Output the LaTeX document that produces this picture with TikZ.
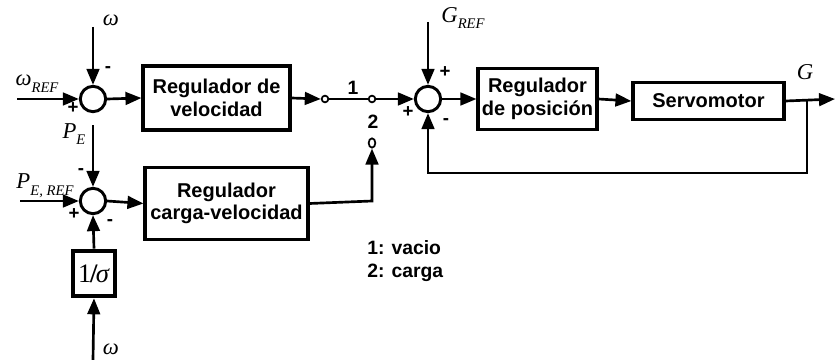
\documentclass[tikz,border=0pt]{standalone}
\usepackage{fontspec}
\setmainfont{Liberation Serif}
\setsansfont{Liberation Sans}
\usetikzlibrary{arrows.meta,shapes.geometric}
\newcommand{\sublab}[2]{#1\raisebox{-0.3em}{\fontsize{11}{11}\selectfont #2}}
\begin{document}
\begin{tikzpicture}[x=0.75pt,y=-0.75pt,
  line/.style={line width=2pt},
  arr/.style={line width=2pt,-{Triangle[length=12pt,width=9.5pt]}},
  sum/.style={circle,draw,line width=2.2pt,minimum size=19pt,inner sep=0pt},
  blk/.style={draw,line width=2.6pt,font=\sffamily\bfseries\fontsize{15}{17}\selectfont,align=center,inner sep=0pt},
  term/.style={circle,draw,line width=1.3pt,minimum size=5pt,inner sep=0pt,fill=white},
  sig/.style={font=\sffamily\bfseries\fontsize{14}{14}\selectfont,inner sep=0pt},
  lab/.style={font=\itshape\fontsize{17}{17}\selectfont,inner sep=0pt},
  txt/.style={font=\sffamily\bfseries\fontsize{14.5}{17}\selectfont,inner sep=0pt},
]
\useasboundingbox (0,0) rectangle (835,360);

% summing junctions
\node[sum] (C1) at (93,99) {};
\node[sum] (C2) at (93,201) {};
\node[sum] (C3) at (428,99) {};

% blocks
\node[blk,minimum width=110pt,minimum height=48pt] (B1) at (216.5,98) {Regulador de\\velocidad};
\node[blk,minimum width=122pt,minimum height=54pt] (B3) at (226.5,203.5) {Regulador\\carga-velocidad};
\node[blk,minimum width=89pt,minimum height=46pt] (B2) at (537.5,99) {Regulador\\de posición};
\node[blk,minimum width=113pt,minimum height=28pt] (SM) at (708.5,101) {Servomotor};
\node[draw,line width=3.2pt,minimum width=32pt,minimum height=34pt,inner sep=0pt,font=\fontsize{20}{20}\selectfont] (S) at (94,273.5) {1\hspace{-1pt}\textbf{/}\hspace{-1.5pt}\textit{σ}};

% switch terminals
\node[term] (T1) at (325,99) {};
\node[term] (TC) at (372,99) {};
\node[draw,ellipse,line width=1.3pt,minimum width=5pt,minimum height=7pt,inner sep=0pt,fill=white] (T2) at (372,143) {};

% input coordinates
\coordinate (wtop) at (93,27);
\coordinate (wref) at (17,99);
\coordinate (pe) at (93,125);
\coordinate (peref) at (20,201);
\coordinate (wbot) at (93,360);
\coordinate (gref) at (428,22);
\coordinate (out) at (835,99);
\coordinate (br) at (807,99);
\coordinate (fb1) at (807,173);
\coordinate (fb2) at (428,173);
\coordinate (c3b) at (372,201);

% connectors
\draw[arr] (wtop) -- (C1.north);
\draw[arr] (wref) -- (C1.west);
\draw[arr] (C1.east) -- (B1.west);
\draw[arr] (B1.east) -- (T1.west);
\draw[line] (T1.east) -- (TC.west);
\draw[arr] (TC.east) -- (C3.west);
\draw[arr] (gref) -- (C3.north);
\draw[arr] (C3.east) -- (B2.west);
\draw[arr] (B2.east) -- (SM.west);
\draw[arr] (SM.east) -- (out);
\draw[arr] (br) -- (fb1) -- (fb2) -- (C3.south);
\draw[arr] (pe) -- (C2.north);
\draw[arr] (peref) -- (C2.west);
\draw[arr] (C2.east) -- (B3.west);
\draw[arr] (B3.east) -- (c3b) -- (T2.south);
\draw[arr] (wbot) -- (S.south);
\draw[arr] (S.north) -- (C2.south);

% labels
\node[lab] (lw1) at (111,20) {ω};
\node[lab] (lwref) at (37,84) {\sublab{ω}{REF}};
\node[lab] (lpe) at (74,134) {\sublab{P}{E}};
\node[lab] (lperef) at (45,186) {\sublab{P}{E, REF}};
\node[lab] (lw2) at (111,349) {ω};
\node[lab] (lgref) at (463,18) {\sublab{G}{REF}};
\node[lab] (lg) at (805,72) {G};

% signs
\node[sig] (s1) at (108,70) {-};
\node[sig] (s2) at (73,108) {+};
\node[sig] (s3) at (81,172) {-};
\node[sig] (s4) at (74,214) {+};
\node[sig] (s5) at (110,223) {-};
\node[sig] (s6) at (445,72) {+};
\node[sig] (s7) at (408,112) {+};
\node[sig] (s8) at (446,122) {-};

% switch numbers
\node[txt] (n1) at (353,88) {1};
\node[txt] (n2) at (373,122) {2};

% legend
\node[txt,anchor=west,align=left] (leg) at (367,261) {1: vacio\\2: carga};
\end{tikzpicture}
\end{document}
